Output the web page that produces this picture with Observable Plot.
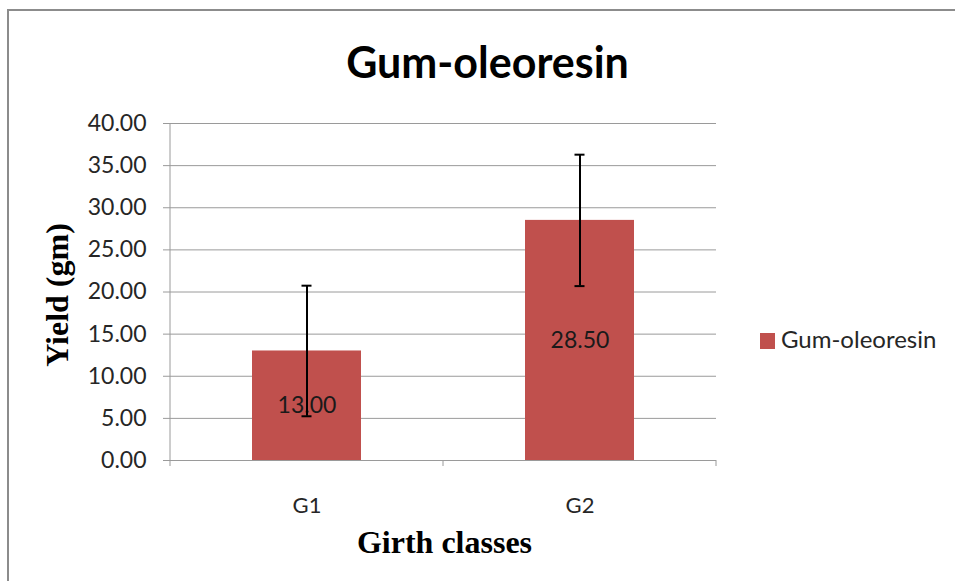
<!DOCTYPE html>
<html><head><meta charset="utf-8">
<script src="https://cdn.jsdelivr.net/npm/d3@7"></script>
<script src="https://cdn.jsdelivr.net/npm/@observablehq/plot@0.6"></script>
<style>
body{margin:0;background:#fff;}
#wrap{position:relative;width:955px;height:581px;overflow:hidden;background:#fff;}
#border{position:absolute;left:7px;top:9px;width:1000px;height:700px;border-left:2px solid #8c8c8c;border-top:2px solid #8c8c8c;box-sizing:border-box;}
#chart{position:absolute;left:0;top:0;}
</style>
</head><body>
<div id="wrap"><div id="border"></div><div id="chart"></div></div>
<script>
const categories = ["G1", "G2"];
const values = [13.00, 28.50];
const errors = [7.75, 7.8];
const yTicks = [0, 5, 10, 15, 20, 25, 30, 35, 40];
const seriesName = "Gum-oleoresin";
const titleText = "Gum-oleoresin";
const xLabel = "Girth classes";
const yLabel = "Yield (gm)";

const data = categories.map((c, i) => ({cat: c, value: values[i], err: errors[i]}));
const barColor = "#C0504D";
const gridColor = "#9a9a9a";

const chart = Plot.plot({
  width: 955,
  height: 581,
  marginLeft: 170,
  marginRight: 239,
  marginTop: 123,
  marginBottom: 121,
  style: {background: "transparent", fontFamily: "Lato"},
  x: {type: "band", domain: categories, paddingInner: 0.6, paddingOuter: 0.3, axis: null},
  y: {domain: [0, 40]},
  marks: [
    Plot.gridY(yTicks, {stroke: gridColor, strokeOpacity: 1}),
    Plot.axisY({ticks: yTicks, tickSize: 7, tickPadding: 17, tickFormat: d => d.toFixed(2),
      stroke: gridColor, fill: "#262626", fontSize: 23, fontFamily: "Lato", label: null}),
    Plot.barY(data, {x: "cat", y: "value", fill: barColor}),
    Plot.ruleY([0], {stroke: gridColor}),
    Plot.text(data, {x: "cat", y: d => d.value / 2, text: d => d.value.toFixed(2),
      lineAnchor: "middle", fontSize: 23, fontFamily: "Lato", fill: "#1a1a1a"}),
    Plot.ruleX(data, {x: "cat", y1: d => d.value - d.err, y2: d => d.value + d.err, stroke: "#000", strokeWidth: 2}),
    Plot.tickY(data, {x: "cat", y: d => d.value + d.err, stroke: "#000", strokeWidth: 2, insetLeft: 49.5, insetRight: 49.5}),
    Plot.tickY(data, {x: "cat", y: d => d.value - d.err, stroke: "#000", strokeWidth: 2, insetLeft: 49.5, insetRight: 49.5}),
    Plot.text(categories, {x: d => d, frameAnchor: "bottom", lineAnchor: "bottom", dy: 52,
      fontSize: 22, fontFamily: "Lato", fill: "#262626"}),
    Plot.text([titleText], {frameAnchor: "top", lineAnchor: "bottom", textAnchor: "middle", dx: 44, dy: -46,
      fontSize: 43, fontWeight: "bold", fontFamily: "Lato", fill: "#000"}),
    Plot.text([xLabel], {frameAnchor: "bottom", lineAnchor: "bottom", textAnchor: "middle", dx: 1, dy: 92,
      fontSize: 32, fontWeight: "bold", fontFamily: "Liberation Serif", fill: "#000"}),
    Plot.text([yLabel], {frameAnchor: "left", lineAnchor: "bottom", textAnchor: "middle", rotate: -90, dx: -103, dy: 3,
      fontSize: 32, fontWeight: "bold", fontFamily: "Liberation Serif", fill: "#000"})
  ]
});
document.getElementById("chart").appendChild(chart);

// axis lines / category boundary ticks and legend, positioned from the library's scales
const svg = d3.select(chart);
const xs = chart.scale("x");
const ys = chart.scale("y");
const y0 = ys.apply(0), yTop = ys.apply(40);
const gap = (xs.step - xs.bandwidth) / 2;
const bounds = [xs.apply(categories[0]) - gap].concat(categories.map(c => xs.apply(c) + xs.bandwidth + gap));
const g = svg.append("g").attr("stroke", gridColor);
g.append("line").attr("x1", bounds[0]).attr("x2", bounds[0]).attr("y1", yTop).attr("y2", y0 + 6);
bounds.slice(1).forEach(b => g.append("line").attr("x1", b).attr("x2", b).attr("y1", y0).attr("y2", y0 + 6));

const lg = svg.append("g");
lg.append("rect").attr("x", 760).attr("y", 333).attr("width", 15).attr("height", 16).attr("fill", barColor);
lg.append("text").attr("x", 781).attr("y", 348).attr("text-anchor", "start").attr("font-family", "Lato").attr("font-size", 24)
  .attr("fill", "#262626").text(seriesName);
</script>
</body></html>
